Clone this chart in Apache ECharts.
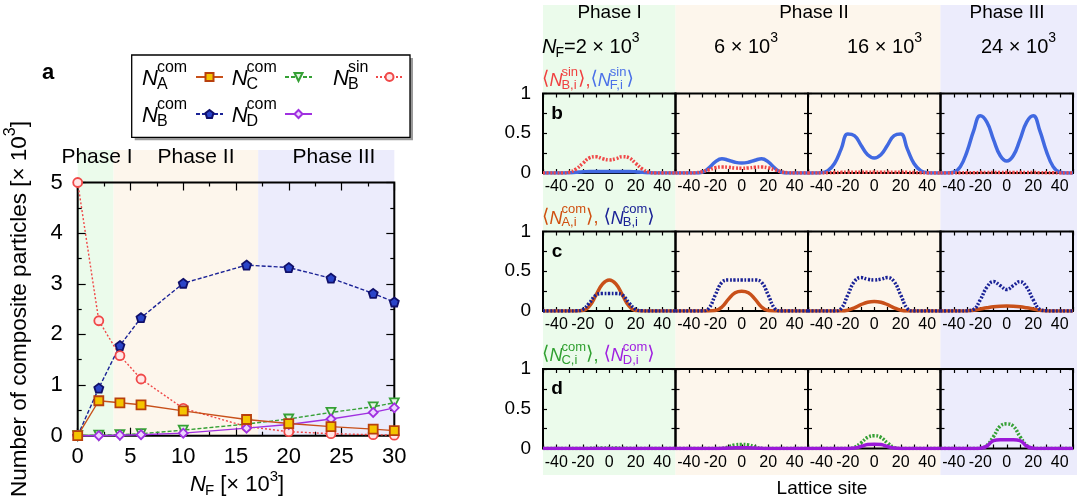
<!DOCTYPE html>
<html>
<head>
<meta charset="utf-8">
<script src="https://cdn.jsdelivr.net/npm/echarts@6.0.0/dist/echarts.min.js"></script>
<style>
  html, body { margin: 0; padding: 0; background: #fff; }
  #chart { width: 1077px; height: 504px; }
</style>
</head>
<body>
<div id="chart"></div>
<script>
// ---------- panel a: number of composite particles vs N_F (units of 10^3) ----------
const nF    = [0, 2, 4, 6, 10, 16, 20, 24, 28, 30];
const nAcom = [0, 0.69, 0.65, 0.61, 0.49, 0.32, 0.24, 0.18, 0.13, 0.10];
const nCcom = [0, 0.01, 0.02, 0.04, 0.11, 0.23, 0.33, 0.46, 0.57, 0.65];
const nBsin = [5.0, 2.27, 1.58, 1.12, 0.54, 0.18, 0.08, 0.04, 0.02, 0.01];
const nBcom = [0, 0.94, 1.78, 2.33, 3.01, 3.37, 3.32, 3.11, 2.81, 2.64];
const nDcom = [0, 0, 0.01, 0.02, 0.05, 0.15, 0.22, 0.33, 0.46, 0.55];
const phaseEdges = [0, 3.4, 17.1, 30];
const phaseNames = ['Phase I', 'Phase II', 'Phase III'];

// ---------- panels b-d: density profiles over lattice sites ----------
const sites = [-50, -45, -40, -35, -30, -25, -20, -15, -10, -5, 0, 5, 10, 15, 20, 25, 30, 35, 40, 45, 50];
const panelNF = ['2', '6', '16', '24'];   // N_F of each column, in 10^3

const rhoBsin = [
  [0, 0, 0, 0, 0.01, 0.05, 0.12, 0.19, 0.205, 0.18, 0.165, 0.18, 0.205, 0.19, 0.12, 0.05, 0.01, 0, 0, 0, 0],
  [0, 0, 0, 0.003, 0.015, 0.04, 0.065, 0.075, 0.072, 0.063, 0.06, 0.063, 0.072, 0.075, 0.065, 0.04, 0.015, 0.003, 0, 0, 0],
  [0, 0, 0, 0.002, 0.005, 0.008, 0.01, 0.01, 0.01, 0.01, 0.01, 0.01, 0.01, 0.01, 0.01, 0.008, 0.005, 0.002, 0, 0, 0],
  [0, 0, 0, 0.002, 0.003, 0.004, 0.005, 0.005, 0.005, 0.005, 0.005, 0.005, 0.005, 0.005, 0.005, 0.004, 0.003, 0.002, 0, 0, 0]
];
const rhoFsin = [
  [0, 0, 0, 0, 0.002, 0.008, 0.015, 0.02, 0.02, 0.02, 0.019, 0.02, 0.02, 0.02, 0.015, 0.008, 0.002, 0, 0, 0, 0],
  [0, 0, 0, 0, 0.01, 0.06, 0.14, 0.18, 0.16, 0.135, 0.125, 0.135, 0.16, 0.18, 0.14, 0.06, 0.01, 0, 0, 0, 0],
  [0, 0, 0.003, 0.03, 0.12, 0.3, 0.49, 0.47, 0.35, 0.23, 0.19, 0.23, 0.35, 0.47, 0.49, 0.3, 0.12, 0.03, 0.003, 0, 0],
  [0, 0, 0.01, 0.08, 0.27, 0.53, 0.72, 0.64, 0.42, 0.22, 0.15, 0.22, 0.42, 0.64, 0.72, 0.53, 0.27, 0.08, 0.01, 0, 0]
];
const rhoAcom = [
  [0, 0, 0, 0, 0, 0, 0.005, 0.06, 0.2, 0.34, 0.39, 0.34, 0.2, 0.06, 0.005, 0, 0, 0, 0, 0, 0],
  [0, 0, 0, 0, 0, 0, 0.005, 0.05, 0.15, 0.23, 0.25, 0.23, 0.15, 0.05, 0.005, 0, 0, 0, 0, 0, 0],
  [0, 0, 0, 0, 0, 0, 0.01, 0.04, 0.08, 0.11, 0.12, 0.11, 0.08, 0.04, 0.01, 0, 0, 0, 0, 0, 0],
  [0, 0, 0, 0, 0, 0.01, 0.025, 0.04, 0.053, 0.06, 0.062, 0.06, 0.053, 0.04, 0.025, 0.01, 0, 0, 0, 0, 0]
];
const rhoBcom = [
  [0, 0, 0, 0, 0, 0.002, 0.02, 0.1, 0.2, 0.22, 0.22, 0.22, 0.2, 0.1, 0.02, 0.002, 0, 0, 0, 0, 0],
  [0, 0, 0, 0, 0, 0.03, 0.2, 0.36, 0.39, 0.39, 0.39, 0.39, 0.39, 0.36, 0.2, 0.03, 0, 0, 0, 0, 0],
  [0, 0, 0, 0, 0, 0.03, 0.2, 0.37, 0.42, 0.4, 0.39, 0.4, 0.42, 0.37, 0.2, 0.03, 0, 0, 0, 0, 0],
  [0, 0, 0, 0, 0.003, 0.02, 0.14, 0.3, 0.37, 0.32, 0.27, 0.32, 0.37, 0.3, 0.14, 0.02, 0.003, 0, 0, 0, 0]
];
const rhoCcom = [
  [0, 0, 0, 0, 0, 0, 0, 0.002, 0.004, 0.005, 0.005, 0.005, 0.004, 0.002, 0, 0, 0, 0, 0, 0, 0],
  [0, 0, 0, 0, 0, 0, 0, 0.003, 0.02, 0.045, 0.05, 0.045, 0.02, 0.003, 0, 0, 0, 0, 0, 0, 0],
  [0, 0, 0, 0, 0, 0, 0, 0.015, 0.07, 0.14, 0.16, 0.14, 0.07, 0.015, 0, 0, 0, 0, 0, 0, 0],
  [0, 0, 0, 0, 0, 0, 0.003, 0.04, 0.15, 0.28, 0.31, 0.28, 0.15, 0.04, 0.003, 0, 0, 0, 0, 0, 0]
];
const rhoDcom = [
  [0, 0, 0, 0, 0, 0, 0, 0, 0.001, 0.001, 0.001, 0.001, 0.001, 0, 0, 0, 0, 0, 0, 0, 0],
  [0, 0, 0, 0, 0, 0, 0, 0.002, 0.006, 0.01, 0.011, 0.01, 0.006, 0.002, 0, 0, 0, 0, 0, 0, 0],
  [0, 0, 0, 0, 0, 0, 0, 0.005, 0.025, 0.05, 0.055, 0.05, 0.025, 0.005, 0, 0, 0, 0, 0, 0, 0],
  [0, 0, 0, 0, 0, 0, 0.003, 0.03, 0.1, 0.11, 0.11, 0.11, 0.1, 0.03, 0.003, 0, 0, 0, 0, 0, 0]
];

// ---------- styling ----------
const FONT = '"Liberation Sans", Arial, Helvetica, "DejaVu Sans", sans-serif';
const C = {
  A: '#c8501a', Afill: '#f5c400', C: '#35a035', Bsin: '#f04848', Bcom: '#1a2296', D: '#a030e0',
  Fsin: '#4169e1', red: '#f04040', blueT: '#4a70e8', orangeT: '#d05010', greenT: '#30a030', purpleT: '#a020e0'
};
const BG = { green: '#ebfbeb', orange: '#fdf6ec', blue: '#ececfc' };

const chart = echarts.init(document.getElementById('chart'), null, { renderer: 'canvas' });

// layout of the grids
const gridA = { left: 77.7, top: 182.5, width: 316.6, height: 253.2 };
const colLeft = [543, 675.5, 808, 940.5], colW = 132.5;
const rowTop = [93.5, 231.5, 369], rowH = 79.5;

const grids = [], xAxes = [], yAxes = [], series = [];
const tickStyle = { color: '#000', width: 1.2 };

function addGrid(g) {
  grids.push(Object.assign({ show: true, borderColor: '#000', borderWidth: 2, backgroundColor: 'transparent',
    containLabel: false, outerBoundsMode: 'none' }, g));
  return grids.length - 1;
}

// panel a
addGrid(gridA);
const axA_x = {
  type: 'value', gridIndex: 0, min: 0, max: 30, interval: 5,
  axisLine: { show: false, onZero: false }, splitLine: { show: false },
  axisTick: { inside: true, length: 8, lineStyle: tickStyle },
  minorTick: { show: true, splitNumber: 2, length: 4, lineStyle: tickStyle },
  axisLabel: { color: '#000', fontSize: 22, fontFamily: FONT, margin: 10 }
};
const axA_y = {
  type: 'value', gridIndex: 0, min: 0, max: 5, interval: 1,
  axisLine: { show: false, onZero: false }, splitLine: { show: false },
  axisTick: { inside: true, length: 8, lineStyle: tickStyle },
  minorTick: { show: true, splitNumber: 2, length: 4, lineStyle: tickStyle },
  axisLabel: { color: '#000', fontSize: 22, fontFamily: FONT, margin: 15 }
};
xAxes.push(Object.assign({}, axA_x, { position: 'bottom' }));
xAxes.push(Object.assign({}, axA_x, { position: 'top', axisLabel: { show: false } }));
yAxes.push(Object.assign({}, axA_y, { position: 'left' }));
yAxes.push(Object.assign({}, axA_y, { position: 'right', axisLabel: { show: false } }));

const pentagon = 'path://M0,-1L0.951,-0.309L0.588,0.809L-0.588,0.809L-0.951,-0.309Z';
function seriesA(name, vals, sym, lineColor, lineType, fill, border, size, rot) {
  return {
    name, type: 'line', xAxisIndex: 0, yAxisIndex: 0, clip: false,
    data: nF.map((x, i) => [x, vals[i]]),
    symbol: sym, symbolSize: size, symbolRotate: rot || 0, showSymbol: true,
    lineStyle: { color: lineColor, width: 1.4, type: lineType },
    itemStyle: { color: fill, borderColor: border, borderWidth: 1.8 },
    emphasis: { disabled: true }
  };
}
series.push(seriesA('NBcom', nBcom, pentagon, C.Bcom, [4, 2], '#2a44c8', '#10106a', 9));
series.push(seriesA('NBsin', nBsin, 'circle', C.Bsin, [2, 2], '#ffe6e6', C.Bsin, 9));
series.push(seriesA('NCcom', nCcom, 'triangle', C.C, [4, 2], '#e4f6e4', C.C, 9, 180));
series.push(seriesA('NDcom', nDcom, 'diamond', C.D, 'solid', '#ecd4ff', C.D, 9));
series.push(seriesA('NAcom', nAcom, 'rect', C.A, 'solid', C.Afill, '#b8400c', 9));

// panels b-d
const rows = [
  [{ data: rhoFsin, color: C.Fsin, type: 'solid' }, { data: rhoBsin, color: C.Bsin, type: [2, 1.6] }],
  [{ data: rhoAcom, color: C.A, type: 'solid' }, { data: rhoBcom, color: C.Bcom, type: [2, 1.6] }],
  [{ data: rhoCcom, color: C.C, type: [2, 1.6] }, { data: rhoDcom, color: '#9b19d8', type: 'solid' }]
];
rows.forEach((row, r) => {
  panelNF.forEach((nf, c) => {
    const gi = addGrid({ left: colLeft[c], top: rowTop[r], width: colW, height: rowH });
    const ax = {
      type: 'value', gridIndex: gi, min: -50, max: 50, interval: 10,
      axisLine: { show: false, onZero: false }, splitLine: { show: false },
      axisTick: { inside: true, length: 4, lineStyle: tickStyle },
      axisLabel: { color: '#000', fontSize: 16, fontFamily: FONT, margin: 6,
        formatter: v => (v % 20 === 0 ? String(v) : '') }
    };
    const ay = {
      type: 'value', gridIndex: gi, min: 0, max: 1, interval: 0.25,
      axisLine: { show: false, onZero: false }, splitLine: { show: false },
      axisTick: { inside: true, length: 4, lineStyle: tickStyle },
      axisLabel: { show: c === 0, color: '#000', fontSize: 19, fontFamily: FONT, margin: 12,
        formatter: v => (v === 0 ? '0' : v === 0.5 ? '0.5' : v === 1 ? '1' : '') }
    };
    xAxes.push(Object.assign({}, ax, { position: 'bottom' }));
    xAxes.push(Object.assign({}, ax, { position: 'top', axisLabel: { show: false } }));
    yAxes.push(Object.assign({}, ay, { position: 'left' }));
    yAxes.push(Object.assign({}, ay, { position: 'right', axisLabel: { show: false } }));
    row.forEach((s, k) => {
      series.push({
        name: 'rho-' + r + '-' + c + '-' + k, type: 'line',
        xAxisIndex: 2 * gi, yAxisIndex: 2 * gi,
        data: sites.map((x, i) => [x, s.data[c][i]]),
        symbol: 'none', smooth: 0.45,
        lineStyle: { color: s.color, width: 3.5, type: s.type, cap: 'butt' },
        emphasis: { disabled: true }, z: 3 + k
      });
    });
  });
});

// legend icons for panel a (labels are drawn as text below)
const legendSpots = [['NAcom', 195, 77], ['NCcom', 284, 77], ['NBsin', 375, 77], ['NBcom', 195, 114], ['NDcom', 284, 114]];
const legends = legendSpots.map(([n, x, y]) => ({
  data: [n], left: x, top: y - 5, orient: 'horizontal', padding: 0,
  itemWidth: 27, itemHeight: 10, formatter: () => '', selectedMode: false,
  textStyle: { fontSize: 8 }, z: 10
}));

chart.setOption({
  animation: false,
  grid: grids, xAxis: xAxes, yAxis: yAxes, series, legend: legends
});

// ---------- text helpers ----------
const mctx = document.createElement('canvas').getContext('2d');
function tw(text, font) { mctx.font = font; return mctx.measureText(text).width; }
function fontStr(size, italic, bold) { return (italic ? 'italic ' : '') + (bold ? 'bold ' : '') + size + 'px ' + FONT; }
function textEl(x, y, text, font, color, align) {
  return { type: 'text', silent: true, z: 100,
    style: { x, y, text, font, fill: color || '#000', align: align || 'left', verticalAlign: 'middle',
      textAlign: align || 'left', textVerticalAlign: 'middle' } };
}
// lays a formula out left to right; 'stack' items get a superscript above a subscript
function formula(x0, y, segs, base) {
  const els = []; let x = x0;
  segs.forEach(s => {
    const color = s.color || '#000';
    if (s.stack) {
      const fN = fontStr(base.big, true);
      els.push(textEl(x, y, s.stack, fN, color));
      x += tw(s.stack, fN) + (base.kern || 0);
      const fS = fontStr(base.small);
      let w = 0;
      if (s.sup) { els.push(textEl(x, y + base.supDy, s.sup, fS, color)); w = Math.max(w, tw(s.sup, fS)); }
      if (s.sub) { els.push(textEl(x, y + base.subDy, s.sub, fS, color)); w = Math.max(w, tw(s.sub, fS)); }
      x += w;
    } else {
      const f = fontStr(s.size || base.big, s.italic, s.bold);
      els.push(textEl(x, y + (s.dy || 0), s.t, f, color));
      x += tw(s.t, f);
    }
  });
  return { els, width: x - x0 };
}

const g = [];
// backgrounds of panels b-d
const colBg = [[colLeft[0], colLeft[1], BG.green], [colLeft[1], colLeft[3], BG.orange], [colLeft[3], 1077, BG.blue]];
colBg.forEach(([x1, x2, col]) => g.push({ type: 'rect', silent: true, z: -100,
  shape: { x: x1, y: 5, width: x2 - x1, height: 470 }, style: { fill: col } }));

// phase backgrounds of panel a, placed through the axis scale
const yBot = chart.convertToPixel({ gridIndex: 0 }, [0, 0])[1];
const phaseCols = [BG.green, BG.orange, BG.blue];
for (let i = 0; i < 3; i++) {
  const x1 = chart.convertToPixel({ gridIndex: 0 }, [phaseEdges[i], 0])[0];
  const x2 = chart.convertToPixel({ gridIndex: 0 }, [phaseEdges[i + 1], 0])[0];
  g.push({ type: 'rect', silent: true, z: -100, shape: { x: x1, y: 150, width: x2 - x1, height: yBot - 150 }, style: { fill: phaseCols[i] } });
}
const phaseLabelX = [97, 196, 334];
phaseNames.forEach((p, i) => g.push(textEl(phaseLabelX[i], 157, p, fontStr(21), '#000', 'center')));

// panel letter a and legend box
g.push(textEl(48, 73, 'a', fontStr(22, false, true), '#000', 'center'));
g.push({ type: 'rect', silent: true, z: 1, shape: { x: 134.7, y: 58, width: 278.3, height: 82.3 }, style: { fill: '#9a9a9a' } });
g.push({ type: 'rect', silent: true, z: 2, shape: { x: 131.7, y: 55, width: 278.3, height: 82.3 }, style: { fill: '#fff', stroke: '#000', lineWidth: 1.3 } });
const legBase = { big: 22, small: 16, supDy: -11, subDy: 6, kern: -1 };
[[142, 78.5, 'com', 'A'], [231.7, 78.5, 'com', 'C'], [333, 78.5, 'sin', 'B'], [142, 116, 'com', 'B'], [231.7, 116, 'com', 'D']]
  .forEach(([x, y, sp, sb]) => g.push(...formula(x, y, [{ stack: 'N', sup: sp, sub: sb }], legBase).els));

// axis titles of panel a
g.push(...formula(190, 485, [{ stack: 'N', sub: 'F' }, { t: ' [× 10' }, { t: '3', size: 15, dy: -8 }, { t: ']' }],
  { big: 22, small: 15, supDy: -10, subDy: 6, kern: -1 }).els);
const yt = formula(0, 0, [{ t: 'Number of composite particles [× 10' }, { t: '3', size: 16, dy: -9 }, { t: ']' }], { big: 22.5, small: 16 });
g.push({ type: 'group', x: 20, y: 309, rotation: Math.PI / 2, z: 100,
  children: yt.els.map(e => { e.style.x -= yt.width / 2; return e; }) });

// headers of panels b-d
[['Phase I', 609.6], ['Phase II', 814], ['Phase III', 1007]].forEach(([t, x]) => g.push(textEl(x, 13, t, fontStr(19), '#000', 'center')));
const hdBase = { big: 20, small: 14, supDy: -9, subDy: 6, kern: -1 };
const hdX = [542, 714, 847, 981];
panelNF.forEach((nf, c) => {
  const segs = c === 0 ? [{ stack: 'N', sub: 'F' }, { t: '=' + nf + ' × 10' }] : [{ t: nf + ' × 10' }];
  segs.push({ t: '3', size: 14, dy: -9 });
  g.push(...formula(hdX[c], 47, segs, hdBase).els);
});

// row labels
const rowBase = { big: 18, small: 13, supDy: -9, subDy: 4, kern: -1 };
const br = (t, color) => ({ t, color, size: 19, dy: -2 });
const rowLabels = [
  [81, [br('⟨', C.red), { stack: 'N', sup: 'sin', sub: 'B,i', color: C.red }, br('⟩', C.red), { t: ',', color: C.red },
        br('⟨', C.blueT), { stack: 'N', sup: 'sin', sub: 'F,i', color: C.blueT }, br('⟩', C.blueT)]],
  [218.5, [br('⟨', C.orangeT), { stack: 'N', sup: 'com', sub: 'A,i', color: C.orangeT }, br('⟩', C.orangeT), { t: ', ', color: C.orangeT },
        br('⟨', C.Bcom), { stack: 'N', sup: 'com', sub: 'B,i', color: C.Bcom }, br('⟩', C.Bcom)]],
  [356, [br('⟨', C.greenT), { stack: 'N', sup: 'com', sub: 'C,i', color: C.greenT }, br('⟩', C.greenT), { t: ', ', color: C.greenT },
        br('⟨', C.purpleT), { stack: 'N', sup: 'com', sub: 'D,i', color: C.purpleT }, br('⟩', C.purpleT)]]
];
rowLabels.forEach(([y, segs]) => g.push(...formula(542, y, segs, rowBase).els));
[['b', 113.5], ['c', 251.7], ['d', 388.3]].forEach(([t, y]) => g.push(textEl(557, y, t, fontStr(19, false, true), '#000', 'center')));
g.push(textEl(822, 489, 'Lattice site', fontStr(19), '#000', 'center'));

chart.setOption({ graphic: { elements: g } });
</script>
</body>
</html>
